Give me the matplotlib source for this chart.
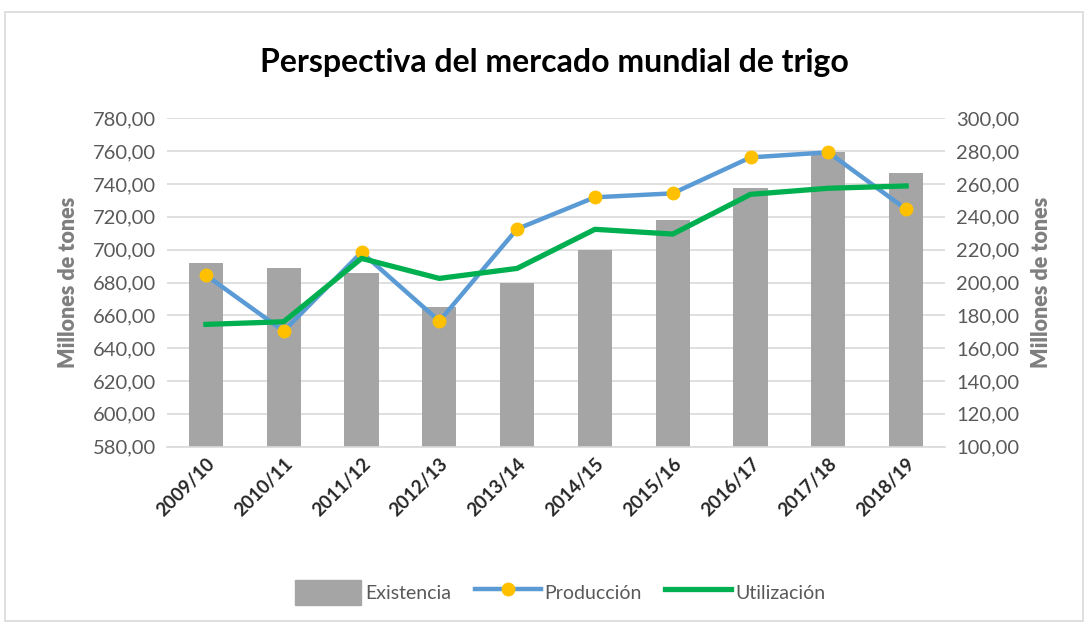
import matplotlib
matplotlib.use('Agg')
import matplotlib.pyplot as plt
from matplotlib.ticker import FuncFormatter, MultipleLocator
from matplotlib.patches import Rectangle
from matplotlib.lines import Line2D
import numpy as np

# data
campanas = ['2009/10', '2010/11', '2011/12', '2012/13', '2013/14',
            '2014/15', '2015/16', '2016/17', '2017/18', '2018/19']
existencia = [211.7, 208.6, 206.0, 185.2, 199.5, 219.8, 238.0, 257.4, 279.7, 266.5]
produccion = [684.5, 650.4, 698.4, 656.5, 712.6, 731.9, 734.3, 756.2, 759.3, 724.6]
utilizacion = [654.5, 656.1, 694.7, 682.5, 688.6, 712.4, 709.5, 733.7, 737.4, 738.8]

plt.rcParams['font.family'] = ['Lato', 'DejaVu Sans']
txt_gray = '#595959'

fig = plt.figure(figsize=(10.88, 6.26), dpi=100)
# light frame around the chart area, like the excel export
fig.patches.append(Rectangle((0.005, 0.008), 0.99, 0.973, transform=fig.transFigure,
                             fill=False, edgecolor='#D9D9D9', linewidth=1.2))

ax2 = fig.add_axes([0.1535, 0.2864, 0.7151, 0.5246])  # right axis, bars + grid
ax = ax2.twinx()
ax.yaxis.tick_left()
ax.yaxis.set_label_position('left')
ax2.yaxis.tick_right()
ax2.yaxis.set_label_position('right')
ax.set_zorder(ax2.get_zorder() + 1)
ax.patch.set_visible(False)

x = np.arange(len(campanas))
ax2.bar(x, existencia, width=0.44, color='#A5A5A5', zorder=2)
ax2.set_ylim(100, 300)
ax2.yaxis.set_major_locator(MultipleLocator(20))
ax2.set_axisbelow(True)
ax2.grid(axis='y', color='#D9D9D9', linewidth=1.2)

ax.plot(x, produccion, color='#5B9BD5', linewidth=3.2, marker='o',
        markersize=9, markerfacecolor='#FFC000', markeredgecolor='#FFC000', zorder=3)
ax.plot(x, utilizacion, color='#00B050', linewidth=3.8, zorder=4)
ax.set_ylim(580, 780)
ax.yaxis.set_major_locator(MultipleLocator(20))

fmt = FuncFormatter(lambda v, p: f'{v:.2f}'.replace('.', ','))
for a in (ax, ax2):
    a.yaxis.set_major_formatter(fmt)
    a.tick_params(axis='y', length=0, labelsize=14.5, labelcolor=txt_gray, pad=8)
    for s in a.spines.values():
        s.set_visible(False)
ax2.spines['bottom'].set_visible(True)
ax2.spines['bottom'].set_color('#D9D9D9')
ax2.spines['bottom'].set_linewidth(1.2)

ax2.set_xlim(-0.5, len(campanas) - 0.5)
ax2.set_xticks(x)
ax2.set_xticklabels(campanas, rotation=45, ha='right', rotation_mode='anchor',
                    fontweight='bold', fontsize=13.5, color='#262626')
ax2.tick_params(axis='x', length=0, pad=6)

ax.set_ylabel('Millones de tones', fontsize=15.5, fontweight='heavy', color='#7F7F7F', labelpad=10)
ax2.set_ylabel('Millones de tones', fontsize=15.5, fontweight='heavy', color='#7F7F7F',
               rotation=90, labelpad=8)

fig.text(0.51, 0.9, 'Perspectiva del mercado mundial de trigo', ha='center', va='center',
         fontsize=23, fontweight='bold', color='black')

handles = [Rectangle((0, 0), 1, 1, color='#A5A5A5'),
           Line2D([], [], color='#5B9BD5', linewidth=3.2, marker='o', markersize=9,
                  markerfacecolor='#FFC000', markeredgecolor='#FFC000'),
           Line2D([], [], color='#00B050', linewidth=3.8)]
fig.legend(handles, ['Existencia', 'Producción', 'Utilización'], loc='center',
           bbox_to_anchor=(0.515, 0.054), ncol=3, frameon=False, fontsize=14,
           labelcolor=txt_gray, handlelength=3.4, handleheight=1.6,
           handletextpad=0.2, columnspacing=1.2)

fig.savefig('out.png', dpi=100)
